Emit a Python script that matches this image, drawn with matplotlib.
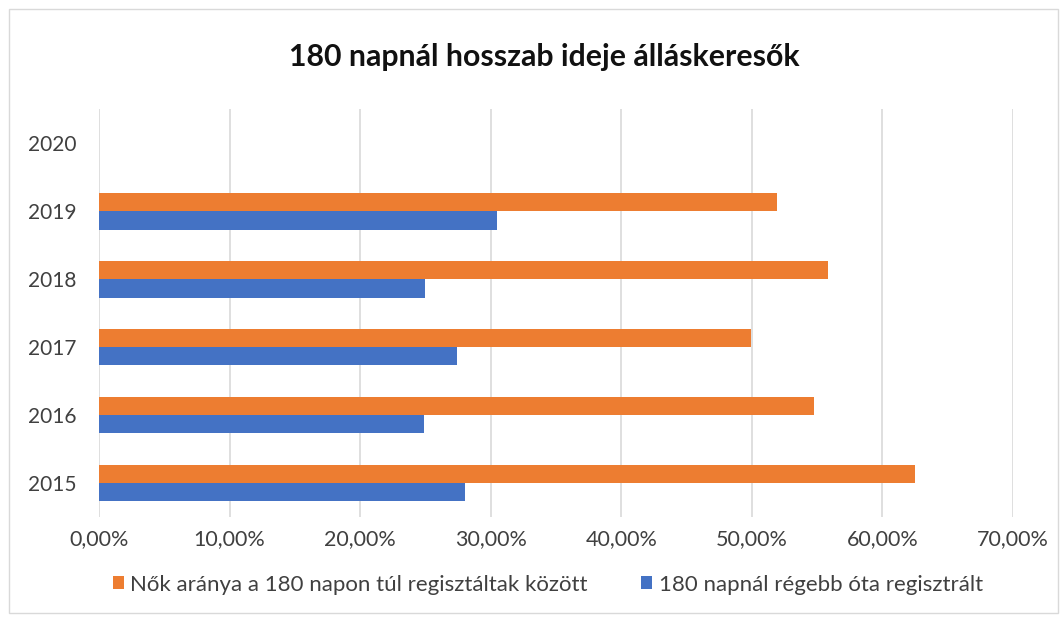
import matplotlib
matplotlib.use("Agg")
import matplotlib.pyplot as plt
import numpy as np
from matplotlib.patches import Rectangle

years = ["2015", "2016", "2017", "2018", "2019", "2020"]
nok_arany = [62.5, 54.8, 49.95, 55.8, 51.95, np.nan]
regebb = [28.0, 24.9, 27.4, 25.0, 30.5, np.nan]
series_names = ["Nők aránya a 180 napon túl regisztáltak között",
                "180 napnál régebb óta regisztrált"]
xticks = [0, 10, 20, 30, 40, 50, 60, 70]
title = "180 napnál hosszab ideje álláskeresők"

orange = "#ED7D31"
blue = "#4472C4"
font = ["Lato", "DejaVu Sans"]
plt.rcParams["font.family"] = font

fig = plt.figure(figsize=(10.64, 6.22), dpi=100)
ax = fig.add_axes([0.093, 0.169, 0.859, 0.655])

y = np.arange(len(years))
h = 0.27
ax.barh(y + h / 2, nok_arany, height=h, color=orange, label=series_names[0], zorder=3)
ax.barh(y - h / 2, regebb, height=h, color=blue, label=series_names[1], zorder=3)

ax.set_xlim(0, 70)
ax.set_ylim(-0.5, 5.5)
ax.set_xticks(xticks)
ax.set_xticklabels([f"{v:.2f}%".replace(".", ",") for v in xticks], fontsize=15.5, color="#404040")
ax.set_yticks(y)
ax.set_yticklabels(years, fontsize=15, color="#404040")
ax.tick_params(length=0)
ax.tick_params(axis="x", pad=9)
ax.tick_params(axis="y", pad=16)
for s in ax.spines.values():
    s.set_visible(False)
ax.grid(axis="x", color="#D9D9D9", linewidth=1.2, zorder=0)

fig.text(0.512, 0.908, title, ha="center", va="center", fontsize=21.8, fontweight="bold", color="#111111")

handles, labels = ax.get_legend_handles_labels()
fig.legend(handles, labels, loc="center", bbox_to_anchor=(0.515, 0.06), ncol=2, frameon=False,
           fontsize=16, handlelength=0.5, handleheight=0.5, handletextpad=0.3, columnspacing=2.4,
           labelcolor="#404040")

fig.patches.append(Rectangle((0.008, 0.015), 0.986, 0.97, transform=fig.transFigure,
                             fill=False, edgecolor="#D9D9D9", linewidth=1.0))

fig.savefig("out.png", dpi=100, facecolor="white")
